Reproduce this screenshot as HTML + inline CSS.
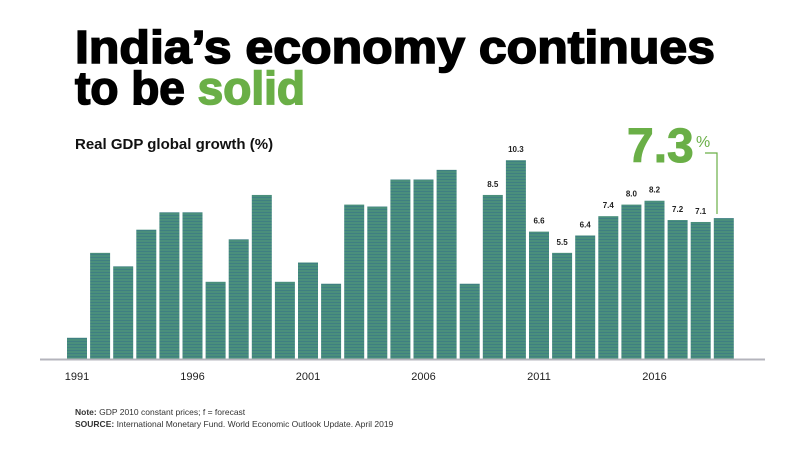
<!DOCTYPE html>
<html><head><meta charset="utf-8"><style>
html,body{margin:0;padding:0;background:#fff;}
svg{display:block;font-family:"Liberation Sans",sans-serif;}
</style></head><body>
<svg id="chart" width="800" height="450" viewBox="0 0 800 450">
  <defs>
    <pattern id="stripe" width="4" height="3" patternUnits="userSpaceOnUse">
      <rect width="4" height="3" fill="#4a8f7c"/>
      <rect y="2" width="4" height="1" fill="#3f7f82"/>
    </pattern>
  </defs>
  <text x="75" y="63" font-size="46" font-weight="bold" fill="#000" stroke="#000" stroke-width="1.6" textLength="640" lengthAdjust="spacingAndGlyphs">India’s economy continues</text>
  <text x="75" y="104" font-size="46" font-weight="bold" fill="#000" stroke="#000" stroke-width="1.6">to be <tspan fill="#6aaf47" stroke="#6aaf47">solid</tspan></text>
  <text x="75" y="149" font-size="15" font-weight="bold" fill="#111">Real GDP global growth (%)</text>
  <text x="627" y="162" font-size="48" font-weight="bold" fill="#6aaf47" stroke="#6aaf47" stroke-width="1">7.3</text>
  <text x="696" y="147" font-size="16" fill="#6aaf47">%</text>
  <polyline points="705,153 717,153 717,214" fill="none" stroke="#6aaf47" stroke-width="1.2"/>
  <g id="bars"></g>
  <line x1="40" y1="359.5" x2="765" y2="359.5" stroke="#b4b4bc" stroke-width="2"/>
  <g id="xlabels"></g>
  <text x="75" y="415" font-size="8.5" fill="#333"><tspan font-weight="bold">Note:</tspan> GDP 2010 constant prices; f = forecast</text>
  <text x="75" y="427" font-size="8.5" fill="#333"><tspan font-weight="bold">SOURCE:</tspan>  International Monetary Fund. World Economic Outlook Update. April 2019</text>
</svg>
<script>
const years = [1991,1992,1993,1994,1995,1996,1997,1998,1999,2000,2001,2002,2003,2004,2005,2006,2007,2008,2009,2010,2011,2012,2013,2014,2015,2016,2017,2018,2019];
const growth = [1.1,5.5,4.8,6.7,7.6,7.6,4.0,6.2,8.5,4.0,5.0,3.9,8.0,7.9,9.3,9.3,9.8,3.9,8.5,10.3,6.6,5.5,6.4,7.4,8.0,8.2,7.2,7.1,7.3];
const labeledYears = [2009,2010,2011,2012,2013,2014,2015,2016,2017,2018];
const tickYears = [1991,1996,2001,2006,2011,2016];

const NS="http://www.w3.org/2000/svg";
const baseY=359, pxPerUnit=19.3, x0=67, pitch=23.1, barW=20;
function xPos(i){return x0+i*pitch;}
function yPos(v){return baseY-v*pxPerUnit;}
const bars=document.getElementById('bars');
growth.forEach((v,i)=>{
  const r=document.createElementNS(NS,'rect');
  r.setAttribute('x',xPos(i));
  r.setAttribute('y',yPos(v));
  r.setAttribute('width',barW);
  r.setAttribute('height',baseY-yPos(v));
  r.setAttribute('fill','url(#stripe)');
  
  
  bars.appendChild(r);
  if(labeledYears.includes(years[i])){
    const t=document.createElementNS(NS,'text');
    t.setAttribute('x',xPos(i)+barW/2);
    t.setAttribute('y',yPos(v)-8);
    t.setAttribute('text-anchor','middle');
    t.setAttribute('font-size','8');
    t.setAttribute('font-weight','bold');
    t.setAttribute('fill','#222');
    t.textContent=v.toFixed(1);
    
    
    bars.appendChild(t);
  }
});
const xl=document.getElementById('xlabels');
tickYears.forEach(y=>{
  const i=years.indexOf(y);
  const t=document.createElementNS(NS,'text');
  t.setAttribute('x',xPos(i)+barW/2);
  t.setAttribute('y',380);
  t.setAttribute('text-anchor','middle');
  t.setAttribute('font-size','11');
  t.setAttribute('fill','#222');
  t.textContent=y;
  
  
  xl.appendChild(t);
});
</script>
</body></html>
